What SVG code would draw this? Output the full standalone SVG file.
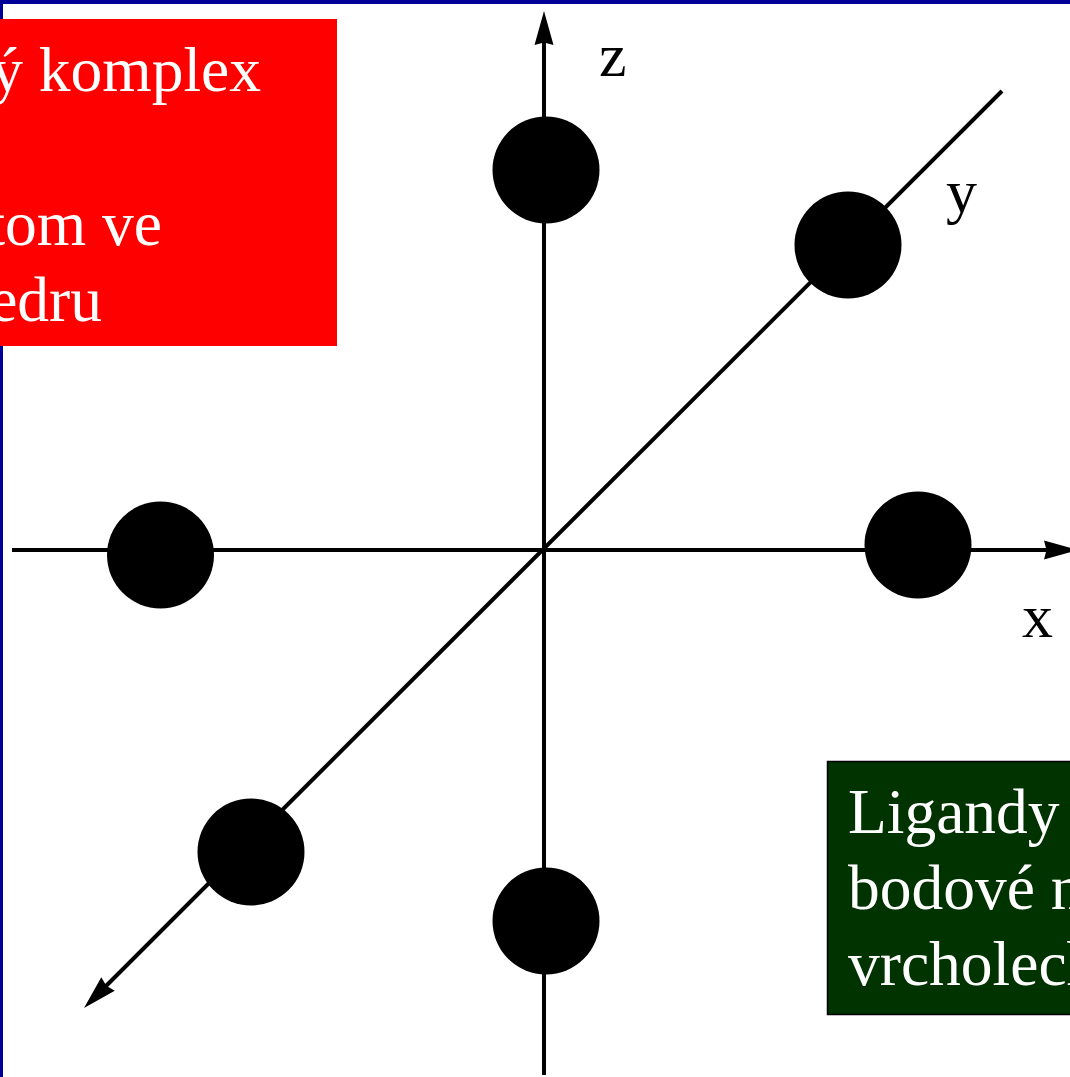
<svg xmlns="http://www.w3.org/2000/svg" width="1070" height="1077" viewBox="0 0 1070 1077">
<style>
text{font-family:"Liberation Serif","Times New Roman",serif;font-size:63.5px}
.lbl{font-size:62px}
.w{fill:#fff}.k{fill:#000}
.ax{stroke:#000;stroke-width:4;fill:none}
.lig{fill:#000}
</style>
<defs>
<path id="head" d="M0 0L-34 -9.500L-31.500 0L-34 9.500Z" fill="#000"/>
</defs>
<rect width="1070" height="1077" fill="#fff"/>
<g id="frame" fill="#000099"><rect width="1070" height="4"/><rect width="3" height="1077"/></g>
<g id="connectors">
<line class="ax" x1="544" y1="1075" x2="544" y2="40"/>
<use href="#head" transform="translate(544 11) rotate(-90)"/>
<line class="ax" x1="12" y1="550" x2="1050" y2="550"/>
<use href="#head" transform="translate(1078 550)"/>
<line class="ax" x1="1002" y1="91" x2="106" y2="986"/>
<use href="#head" transform="translate(84 1008) rotate(135)"/>
</g>
<g id="ligand-top"><circle class="lig" cx="546" cy="170" r="53.5"/></g>
<g id="ligand-back"><circle class="lig" cx="848" cy="245" r="53.5"/></g>
<g id="ligand-left"><circle class="lig" cx="160.500" cy="555" r="53.500"/></g>
<g id="ligand-right"><circle class="lig" cx="918" cy="545" r="53.5"/></g>
<g id="ligand-front"><circle class="lig" cx="251" cy="852" r="53.5"/></g>
<g id="ligand-bottom"><circle class="lig" cx="546" cy="921" r="53.5"/></g>
<g id="label-z"><text class="k lbl" x="599" y="76">z</text></g>
<g id="label-y"><text class="k lbl" x="946" y="212">y</text></g>
<g id="label-x"><text class="k lbl" x="1022" y="637">x</text></g>
<g id="red-box">
<rect x="-10" y="19" width="347" height="327" fill="#f00"/>
<text class="w" x="261" y="91" text-anchor="end">ý komplex</text>
<text class="w" x="162" y="245" text-anchor="end">tom ve</text>
<text class="w" x="102" y="321" text-anchor="end">edru</text>
</g>
<g id="green-box">
<rect x="827.500" y="761.500" width="260" height="253" fill="#003300" stroke="#000" stroke-width="1.500"/>
<text class="w" x="848" y="833">Ligandy</text>
<text class="w" x="848" y="909">bodové n</text>
<text class="w" x="848" y="985">vrcholech</text>
</g>
</svg>
